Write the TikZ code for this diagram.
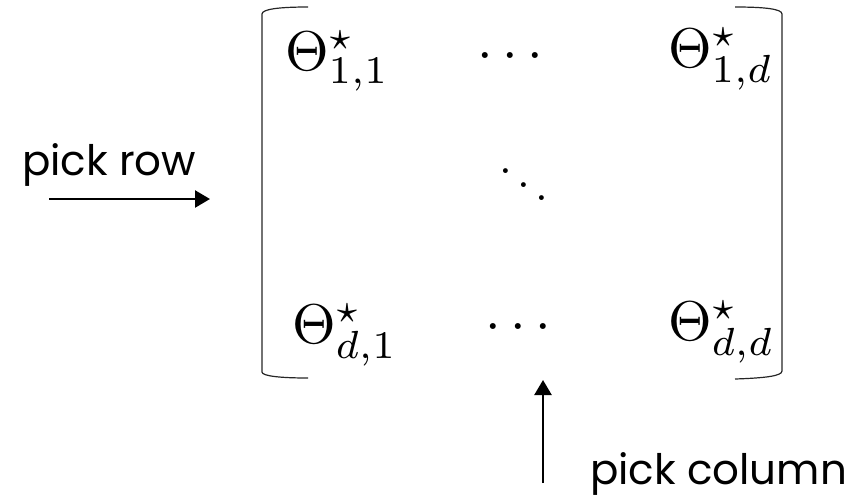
\documentclass[tikz,border=0pt]{standalone}
\usepackage{fontspec}
\setmainfont{Poppins}
\usetikzlibrary{arrows.meta}
\begin{document}
\begin{tikzpicture}[x=1pt,y=-1pt,
  entry/.style={anchor=base west,inner sep=0pt,scale=5.6,font=\fontfamily{lmr}\selectfont},
  dotsnode/.style={anchor=center,inner sep=0pt,scale=5.6,font=\fontfamily{lmr}\selectfont},
  label/.style={inner sep=0pt,font=\fontsize{42}{48}\selectfont},
  brk/.style={line width=1.2pt,black!85},
  arr/.style={line width=2.4pt,-{Triangle[length=15pt,width=17pt]}}]
\useasboundingbox (0,0) rectangle (856,499);
% entries
\node[entry] (a11) at (284,70) {$\Theta^\star_{1,1}$};
\node[entry] (a1d) at (667,67) {$\Theta^\star_{1,d}$};
\node[entry] (ad1) at (291,343) {$\Theta^\star_{d,1}$};
\node[entry] (add) at (667,340) {$\Theta^\star_{d,d}$};
\node[dotsnode] (c1) at (510,57) {$\cdots$};
\node[dotsnode] (c2) at (518,328) {$\cdots$};
\node[dotsnode,scale=0.82] (dd) at (524,171) {$\ddots$};
% brackets
\draw[brk] (308,7) .. controls (280,7) and (262,9) .. (262,14) -- (262,372) .. controls (262,376) and (280,378) .. (308,378);
\draw[brk] (735,7) .. controls (765,7) and (782,9) .. (782,14) -- (782,371) .. controls (782,376) and (765,378) .. (735,379);
% labels
\node[label,anchor=base west] (pr) at (22,175) {pick row};
\node[label,anchor=base west] (pc) at (590,484) {pick column};
\coordinate (r0) at (49,199);
\coordinate (r1) at (210,199);
\coordinate (k0) at (543,483);
\coordinate (k1) at (543,380);
\draw[arr] (r0) -- (r1);
\draw[arr] (k0) -- (k1);
\end{tikzpicture}
\end{document}
